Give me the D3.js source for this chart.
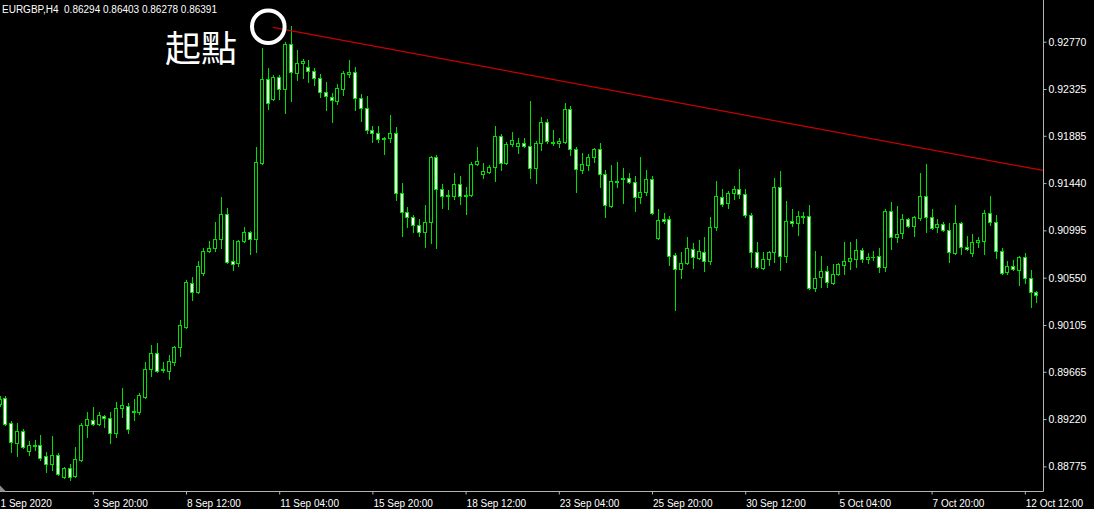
<!DOCTYPE html>
<html><head><meta charset="utf-8">
<script src="https://cdn.jsdelivr.net/npm/d3@7/dist/d3.min.js"></script>
<style>
html,body{margin:0;padding:0;background:#000;overflow:hidden}
svg{display:block}
</style></head>
<body>
<script>
const symbolTitle = "EURGBP,H4  0.86294 0.86403 0.86278 0.86391";
const annotationText = "起點";

const open = [.89360,.89417,.89182,.88993,.89106,.88918,.88975,.88975,.88871,.88796,
.88880,.88673,.88758,.88683,.88833,.89163,.89210,.89172,.89247,.89229,
.89088,.89323,.89341,.89294,.89285,.89426,.89690,.89840,.89690,.89671,
.89756,.89897,.90085,.90499,.90414,.90593,.90800,.90828,.90913,.91148,
.90706,.90687,.90894,.90979,.90913,.91628,.92419,.92230,.92437,.92325,
.92748,.92475,.92569,.92532,.92494,.92428,.92296,.92249,.92212,.92325,
.92466,.92485,.92240,.92146,.91939,.91910,.91863,.91863,.91910,.91346,
.91167,.91120,.91045,.90979,.91073,.91685,.91384,.91327,.91318,.91431,
.91327,.91327,.91619,.91525,.91544,.91591,.91882,.91628,.91807,.91788,
.91816,.91788,.91581,.91816,.92014,.91826,.91816,.91826,.92136,.91760,
.91562,.91609,.91685,.91760,.91525,.91224,.91459,.91487,.91487,.91449,
.91308,.91355,.91478,.90922,.91101,.91101,.90762,.90631,.90687,.90819,
.90734,.90791,.90706,.91026,.91308,.91252,.91346,.91384,.91337,.91139,
.90791,.90640,.90725,.90791,.91402,.90753,.91082,.91064,.91129,.91129,
.90452,.90555,.90612,.90499,.90584,.90668,.90706,.90725,.90810,.90725,
.90748,.90753,.90650,.91177,.90932,.90970,.91101,.91035,.91111,.91318,
.91120,.91026,.91054,.90998,.90781,.91064,.90838,.90781,.90885,.90894,
.91158,.91073,.90800,.90603,.90659,.90621,.90744,.90546,.90414];

const high = [.89436,.89436,.89200,.89182,.89125,.89012,.89022,.89069,.88909,.89059,
.88899,.88768,.88796,.88956,.89182,.89285,.89332,.89285,.89257,.89285,
.89379,.89511,.89370,.89407,.89464,.89756,.89916,.89934,.89756,.89821,
.89906,.90151,.90527,.90555,.90706,.90828,.90894,.91073,.91308,.91205,
.90904,.90904,.91026,.90988,.91779,.92710,.92522,.92456,.92456,.92767,
.92917,.92692,.92607,.92597,.92522,.92466,.92390,.92287,.92372,.92494,
.92597,.92532,.92277,.92259,.91976,.91976,.91873,.92080,.91967,.91440,
.91214,.91139,.91101,.91233,.91694,.91703,.91431,.91374,.91534,.91506,
.91402,.91638,.91779,.91628,.91609,.91976,.91901,.91826,.91920,.91863,
.91863,.92212,.91835,.92061,.92042,.91939,.91863,.92193,.92165,.91779,
.91722,.91713,.91769,.91816,.91562,.91609,.91638,.91581,.91534,.91506,
.91685,.91562,.91506,.91195,.91158,.91129,.90781,.90791,.90932,.90875,
.90904,.90932,.91120,.91459,.91384,.91365,.91412,.91572,.91384,.91158,
.90885,.90791,.90800,.91487,.91553,.91271,.91195,.91177,.91167,.91233,
.90800,.90753,.90659,.90678,.90687,.90885,.90885,.90913,.90828,.90781,
.90800,.90828,.91195,.91261,.91224,.91148,.91111,.91129,.91534,.91619,
.91195,.91101,.91073,.91064,.91233,.91073,.90941,.90960,.90932,.91186,
.91318,.91139,.90828,.90706,.90715,.90753,.90781,.90621,.90424];

const low = [.89341,.89163,.88909,.88871,.88946,.88880,.88928,.88833,.88721,.88739,
.88692,.88664,.88645,.88673,.88824,.89050,.89163,.89163,.89144,.88993,
.89050,.89238,.89088,.89210,.89266,.89417,.89624,.89662,.89662,.89596,
.89727,.89812,.90075,.90339,.90405,.90574,.90791,.90800,.90828,.90687,
.90621,.90659,.90885,.90772,.90791,.91619,.92136,.92221,.92230,.92099,
.92212,.92409,.92428,.92390,.92362,.92249,.92127,.92014,.92183,.92268,
.92437,.92127,.92023,.91910,.91826,.91826,.91713,.91826,.91280,.90941,
.91026,.90979,.90941,.90838,.90875,.90828,.91205,.91195,.91289,.91242,
.91148,.91318,.91609,.91487,.91534,.91459,.91562,.91619,.91788,.91722,
.91779,.91487,.91440,.91751,.91816,.91798,.91779,.91816,.91703,.91355,
.91534,.91562,.91638,.91402,.91120,.91214,.91402,.91252,.91440,.91177,
.91252,.91327,.91148,.90913,.91064,.90668,.90245,.90546,.90678,.90640,
.90725,.90612,.90678,.90998,.91224,.91205,.91289,.91299,.91120,.90650,
.90640,.90631,.90668,.90697,.90621,.90697,.91035,.90951,.91064,.90442,
.90424,.90461,.90461,.90490,.90574,.90584,.90631,.90650,.90697,.90687,
.90715,.90603,.90612,.90819,.90885,.90922,.91026,.90941,.91092,.90979,
.91007,.90979,.90988,.90697,.90772,.90772,.90810,.90753,.90838,.90772,
.91045,.90734,.90584,.90584,.90621,.90480,.90499,.90273,.90320];

const close = [.89407,.89172,.89003,.89106,.88956,.88975,.88965,.88852,.88796,.88880,
.88702,.88758,.88673,.88843,.89163,.89219,.89172,.89257,.89229,.89088,
.89323,.89351,.89125,.89285,.89445,.89690,.89840,.89671,.89680,.89765,
.89897,.90104,.90508,.90414,.90659,.90800,.90828,.90913,.91148,.90697,
.90678,.90894,.90979,.90913,.91638,.92419,.92193,.92437,.92325,.92748,
.92485,.92569,.92588,.92494,.92428,.92296,.92259,.92221,.92334,.92475,
.92485,.92240,.92146,.91939,.91910,.91854,.91854,.91910,.91346,.91167,
.91120,.91045,.90979,.91073,.91685,.91384,.91318,.91318,.91431,.91318,
.91318,.91619,.91647,.91553,.91591,.91882,.91628,.91807,.91845,.91816,
.91788,.91581,.91816,.92014,.91835,.91816,.91835,.92136,.91760,.91572,
.91619,.91685,.91760,.91525,.91233,.91459,.91449,.91478,.91449,.91308,
.91355,.91478,.91158,.91092,.91082,.90753,.90631,.90687,.90828,.90744,
.90800,.90706,.91026,.91318,.91242,.91346,.91384,.91337,.91139,.90791,
.90650,.90725,.90791,.91402,.90753,.91082,.91064,.91129,.91120,.90452,
.90546,.90612,.90508,.90584,.90678,.90706,.90734,.90810,.90725,.90744,
.90744,.90650,.91177,.90932,.90960,.91101,.91035,.91120,.91318,.91120,
.91017,.91054,.90998,.90791,.91064,.90838,.90819,.90885,.90904,.91158,
.91073,.90800,.90593,.90659,.90631,.90744,.90546,.90414,.90386];

const timeLabels = ["1 Sep 2020","3 Sep 20:00","8 Sep 12:00","11 Sep 04:00","15 Sep 20:00","18 Sep 12:00",
"23 Sep 04:00","25 Sep 20:00","30 Sep 12:00","5 Oct 04:00","7 Oct 20:00","12 Oct 12:00"];
const timeLabelBars = [0,16,32,48,64,80,96,112,128,144,160,176];
const priceTicks = [0.92770,0.92325,0.91885,0.91440,0.90995,0.90550,0.90105,0.89665,0.89220,0.88775];

const trendBars = [46.94, 179.1];
const trendPrices = [0.92904, 0.91559];
const markerBar = 46.13;
const markerPrice = 0.92911;

const W = 1094, H = 509;
const plotRight = 1043.5, plotBottom = 491.5;
const fontAxis = "'Liberation Sans', Arial, sans-serif";

const svg = d3.select("body").append("svg").attr("width", W).attr("height", H)
  .style("background", "#000");

const x = d3.scaleLinear().domain([0, 178]).range([-0.4, 1036.45]);
const y = d3.scaleLinear().domain([0.885998, 0.931623]).range([485, 0]);

svg.append("defs").append("clipPath").attr("id", "plot")
  .append("rect").attr("x", 0).attr("y", 0).attr("width", plotRight).attr("height", plotBottom);

const plot = svg.append("g").attr("clip-path", "url(#plot)");

const green = "#00e000";
const data = open.map((o, i) => ({i, o, h: high[i], l: low[i], c: close[i]}));

const cg = plot.append("g");
const candle = cg.selectAll("g").data(data).join("g");
candle.append("line")
  .attr("x1", d => Math.round(x(d.i)) + 0.5).attr("x2", d => Math.round(x(d.i)) + 0.5)
  .attr("y1", d => Math.round(y(d.h))).attr("y2", d => Math.round(y(d.l)) + 1)
  .attr("stroke", green).attr("stroke-width", 1);
candle.append("rect")
  .attr("x", d => Math.round(x(d.i)) - 1.5)
  .attr("width", 3)
  .attr("y", d => Math.round(y(Math.max(d.o, d.c))) + 0.5)
  .attr("height", d => Math.max(0.01, Math.round(y(Math.min(d.o, d.c))) - Math.round(y(Math.max(d.o, d.c)))))
  .attr("fill", d => d.c < d.o ? "#ffffff" : "#000000")
  .attr("stroke", green).attr("stroke-width", 1);

// trend line
plot.append("line")
  .attr("x1", x(trendBars[0])).attr("y1", y(trendPrices[0]))
  .attr("x2", x(trendBars[1])).attr("y2", y(trendPrices[1]))
  .attr("stroke", "#c80000").attr("stroke-width", 1.2);

// marker circle
svg.append("circle").attr("cx", x(markerBar)).attr("cy", y(markerPrice)).attr("r", 16.3)
  .attr("fill", "none").attr("stroke", "#ffffff").attr("stroke-width", 4);

// annotation text
svg.append("text").attr("x", 165).attr("y", 62)
  .attr("font-family", "'Noto Sans CJK TC','Noto Sans CJK SC',sans-serif")
  .attr("font-size", 36).attr("fill", "#ffffff").text(annotationText);

// frame
svg.append("line").attr("x1", plotRight).attr("x2", plotRight).attr("y1", 0).attr("y2", plotBottom)
  .attr("stroke", "#b4b4b4");
svg.append("line").attr("x1", 0).attr("x2", plotRight).attr("y1", plotBottom).attr("y2", plotBottom)
  .attr("stroke", "#b4b4b4");
svg.append("path").attr("d", `M0,${plotBottom - 6}L0,${plotBottom}L6,${plotBottom}Z`).attr("fill", "#8c8c8c");

// price axis
const yAxis = d3.axisRight(y).tickValues(priceTicks).tickSize(3).tickPadding(2)
  .tickFormat(d => d.toFixed(5));
const ya = svg.append("g").attr("transform", `translate(${plotRight},0)`).call(yAxis);
ya.select(".domain").remove();
ya.selectAll(".tick line").attr("stroke", "#b4b4b4");
ya.selectAll("text").attr("fill", "#ffffff").attr("font-family", fontAxis).attr("font-size", 10.5);

// time axis
const xAxis = d3.axisBottom(x).tickValues(timeLabelBars).tickSize(3).tickPadding(5)
  .tickFormat((d, k) => timeLabels[k]);
const xa = svg.append("g").attr("transform", `translate(0,${plotBottom})`).call(xAxis);
xa.select(".domain").remove();
xa.selectAll(".tick line").attr("stroke", "#b4b4b4");
xa.selectAll("text").attr("fill", "#ffffff").attr("font-family", fontAxis).attr("font-size", 10)
  .attr("text-anchor", "start").attr("dx", 0.5);
xa.selectAll(".tick").filter((d, k) => k === 0).select("line").remove();

// title
svg.append("text").attr("x", 2).attr("y", 13).attr("font-family", fontAxis).attr("font-size", 10)
  .style("white-space", "pre")
  .attr("fill", "#ffffff").text(symbolTitle);
</script>
</body></html>
